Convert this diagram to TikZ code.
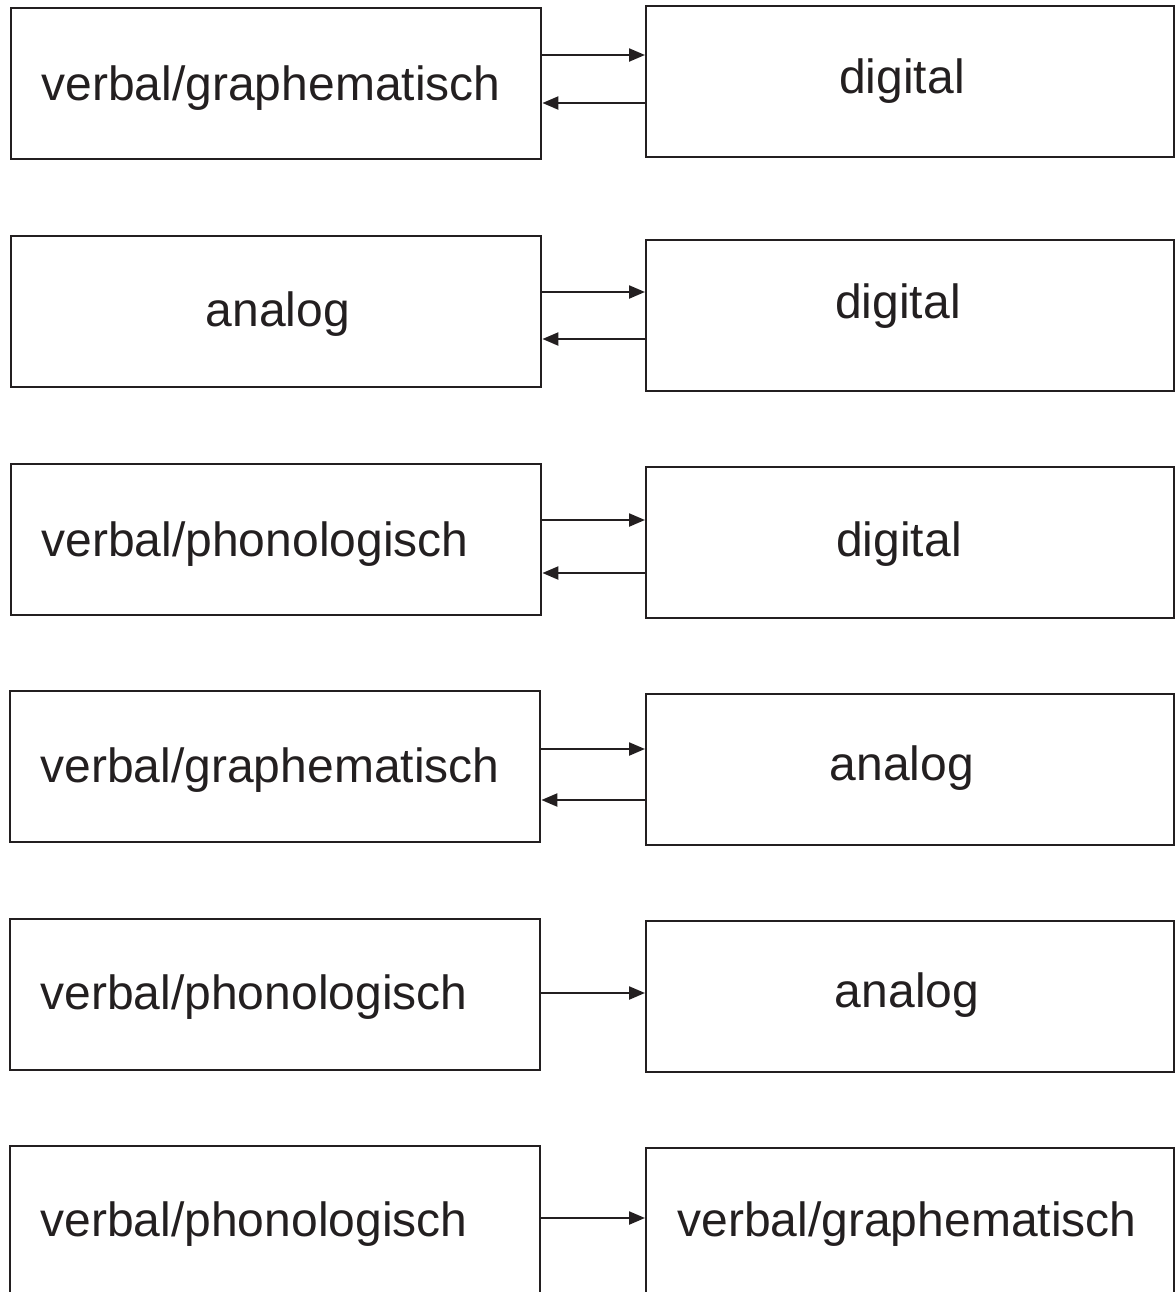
\documentclass[tikz,border=0pt]{standalone}
\usepackage{fontspec}
\setmainfont{Liberation Sans}
\usetikzlibrary{arrows.meta}
\definecolor{ink}{HTML}{231F20}
\begin{document}
\begin{tikzpicture}[x=0.5pt,y=-0.5pt,
  lbox/.style={draw=ink, line width=1.2pt, inner sep=0pt, anchor=north west,
               minimum width=265pt, minimum height=75.5pt},
  rbox/.style={lbox, minimum width=264pt},
  lbl/.style={text=ink, font=\fontsize{24}{28}\selectfont, inner sep=0pt, anchor=base},
  arr/.style={draw=ink, line width=1.1pt, -{Triangle[length=8pt,width=6.5pt]}}]
\useasboundingbox (0,0) rectangle (1175,1292);
\clip (0,0) rectangle (1175,1292);

% row 1
\node[lbox] (L1) at (10,7) {};
\node[rbox] (R1) at (645,5) {};
\node[lbl] (tL1) at (271,100) {verbal/graphematisch};
\node[lbl] (tR1) at (902,93) {digital};
\draw[arr] (L1.east |- 0,55) -- (R1.west |- 0,55);
\draw[arr] (R1.west |- 0,103) -- (L1.east |- 0,103);

% row 2
\node[lbox] (L2) at (10,235) {};
\node[rbox] (R2) at (645,239) {};
\node[lbl] (tL2) at (278,326) {analog};
\node[lbl] (tR2) at (898,318) {digital};
\draw[arr] (L2.east |- 0,292) -- (R2.west |- 0,292);
\draw[arr] (R2.west |- 0,339) -- (L2.east |- 0,339);

% row 3
\node[lbox] (L3) at (10,463) {};
\node[rbox] (R3) at (645,466) {};
\node[lbl] (tL3) at (255,556) {verbal/phonologisch};
\node[lbl] (tR3) at (899,556) {digital};
\draw[arr] (L3.east |- 0,520) -- (R3.west |- 0,520);
\draw[arr] (R3.west |- 0,573) -- (L3.east |- 0,573);

% row 4
\node[lbox] (L4) at (9,690) {};
\node[rbox] (R4) at (645,693) {};
\node[lbl] (tL4) at (270,782) {verbal/graphematisch};
\node[lbl] (tR4) at (902,780) {analog};
\draw[arr] (L4.east |- 0,749) -- (R4.west |- 0,749);
\draw[arr] (R4.west |- 0,800) -- (L4.east |- 0,800);

% row 5
\node[lbox] (L5) at (9,918) {};
\node[rbox] (R5) at (645,920) {};
\node[lbl] (tL5) at (254,1009) {verbal/phonologisch};
\node[lbl] (tR5) at (907,1007) {analog};
\draw[arr] (L5.east |- 0,993) -- (R5.west |- 0,993);

% row 6 (boxes run past the lower edge)
\node[lbox, minimum height=80pt] (L6) at (9,1145) {};
\node[rbox, minimum height=80pt] (R6) at (645,1147) {};
\node[lbl] (tL6) at (254,1236) {verbal/phonologisch};
\node[lbl] (tR6) at (907,1236) {verbal/graphematisch};
\draw[arr] (L6.east |- 0,1218) -- (R6.west |- 0,1218);
\end{tikzpicture}
\end{document}
